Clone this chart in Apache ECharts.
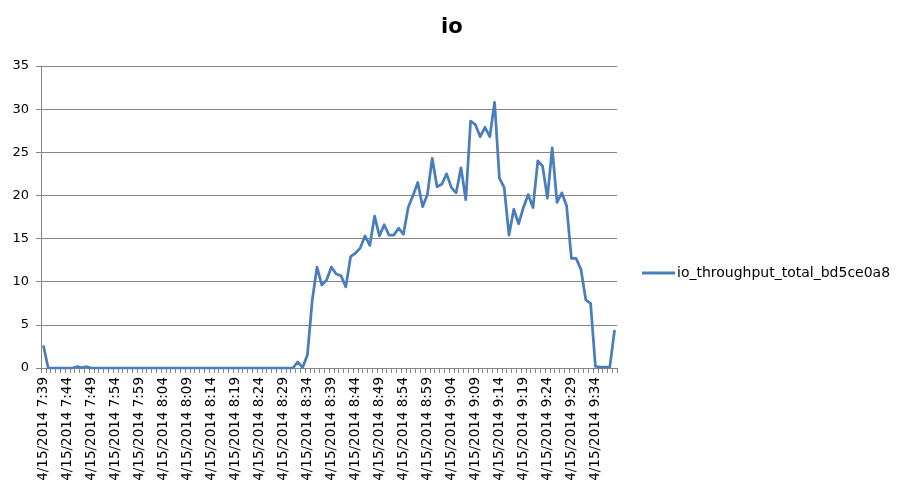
<!DOCTYPE html>
<html>
<head>
<meta charset="utf-8">
<script src="https://cdn.jsdelivr.net/npm/echarts@6/dist/echarts.min.js"></script>
<style>html,body{margin:0;padding:0;background:#fff;}#c{width:900px;height:484px;}</style>
</head>
<body>
<div id="c"></div>
<script>
var chartTitle = 'io';
var seriesName = 'io_throughput_total_bd5ce0a8';
var categories = [
'4/15/2014 7:39','4/15/2014 7:40','4/15/2014 7:41','4/15/2014 7:42','4/15/2014 7:43','4/15/2014 7:44','4/15/2014 7:45','4/15/2014 7:46','4/15/2014 7:47','4/15/2014 7:48',
'4/15/2014 7:49','4/15/2014 7:50','4/15/2014 7:51','4/15/2014 7:52','4/15/2014 7:53','4/15/2014 7:54','4/15/2014 7:55','4/15/2014 7:56','4/15/2014 7:57','4/15/2014 7:58',
'4/15/2014 7:59','4/15/2014 8:00','4/15/2014 8:01','4/15/2014 8:02','4/15/2014 8:03','4/15/2014 8:04','4/15/2014 8:05','4/15/2014 8:06','4/15/2014 8:07','4/15/2014 8:08',
'4/15/2014 8:09','4/15/2014 8:10','4/15/2014 8:11','4/15/2014 8:12','4/15/2014 8:13','4/15/2014 8:14','4/15/2014 8:15','4/15/2014 8:16','4/15/2014 8:17','4/15/2014 8:18',
'4/15/2014 8:19','4/15/2014 8:20','4/15/2014 8:21','4/15/2014 8:22','4/15/2014 8:23','4/15/2014 8:24','4/15/2014 8:25','4/15/2014 8:26','4/15/2014 8:27','4/15/2014 8:28',
'4/15/2014 8:29','4/15/2014 8:30','4/15/2014 8:31','4/15/2014 8:32','4/15/2014 8:33','4/15/2014 8:34','4/15/2014 8:35','4/15/2014 8:36','4/15/2014 8:37','4/15/2014 8:38',
'4/15/2014 8:39','4/15/2014 8:40','4/15/2014 8:41','4/15/2014 8:42','4/15/2014 8:43','4/15/2014 8:44','4/15/2014 8:45','4/15/2014 8:46','4/15/2014 8:47','4/15/2014 8:48',
'4/15/2014 8:49','4/15/2014 8:50','4/15/2014 8:51','4/15/2014 8:52','4/15/2014 8:53','4/15/2014 8:54','4/15/2014 8:55','4/15/2014 8:56','4/15/2014 8:57','4/15/2014 8:58',
'4/15/2014 8:59','4/15/2014 9:00','4/15/2014 9:01','4/15/2014 9:02','4/15/2014 9:03','4/15/2014 9:04','4/15/2014 9:05','4/15/2014 9:06','4/15/2014 9:07','4/15/2014 9:08',
'4/15/2014 9:09','4/15/2014 9:10','4/15/2014 9:11','4/15/2014 9:12','4/15/2014 9:13','4/15/2014 9:14','4/15/2014 9:15','4/15/2014 9:16','4/15/2014 9:17','4/15/2014 9:18',
'4/15/2014 9:19','4/15/2014 9:20','4/15/2014 9:21','4/15/2014 9:22','4/15/2014 9:23','4/15/2014 9:24','4/15/2014 9:25','4/15/2014 9:26','4/15/2014 9:27','4/15/2014 9:28',
'4/15/2014 9:29','4/15/2014 9:30','4/15/2014 9:31','4/15/2014 9:32','4/15/2014 9:33','4/15/2014 9:34','4/15/2014 9:35','4/15/2014 9:36','4/15/2014 9:37','4/15/2014 9:38'
];
var ioValues = [
2.6,0,0,0,0,0,0,0.15,0.05,0.15,
0,0,0,0,0,0,0,0,0,0,
0,0,0,0,0,0,0,0,0,0,
0,0,0,0,0,0,0,0,0,0,
0,0,0,0,0,0,0,0,0,0,
0,0,0,0.7,0.05,1.5,7.8,11.7,9.6,10.2,
11.7,10.9,10.7,9.4,12.9,13.3,13.9,15.3,14.2,17.6,
15.3,16.6,15.4,15.4,16.2,15.5,18.6,20.0,21.5,18.7,
20.1,24.3,21.0,21.3,22.5,20.9,20.3,23.2,19.5,28.6,
28.2,26.8,27.9,26.8,30.8,22.0,20.9,15.4,18.4,16.7,
18.6,20.1,18.6,24.0,23.4,19.7,25.5,19.2,20.3,18.8,
12.7,12.7,11.4,7.9,7.5,0.2,0.1,0.1,0.1,4.4
];
var yTicks = {min: 0, max: 35, interval: 5};

var chart = echarts.init(document.getElementById('c'), null, {renderer: 'canvas'});
chart.setOption({
  backgroundColor: '#ffffff',
  animation: false,
  title: {
    text: chartTitle,
    left: 436,
    top: 12,
    textStyle: {fontFamily: 'DejaVu Sans', fontSize: 21, fontWeight: 'bold', color: '#000'}
  },
  legend: {
    data: [seriesName],
    left: 637,
    top: 261,
    itemWidth: 33,
    itemHeight: 3,
    itemGap: 4,
    icon: 'rect',
    textStyle: {fontFamily: 'DejaVu Sans', fontSize: 14, color: '#000', padding: [0, 0, 0, -3]}
  },
  grid: {
    left: 41, right: 283, top: 66, bottom: 116,
    containLabel: false,
    outerBoundsMode: 'none'
  },
  xAxis: {
    type: 'category',
    data: categories,
    boundaryGap: true,
    axisLine: {show: true, lineStyle: {color: '#868686', width: 1}},
    axisTick: {show: true, interval: 0, length: 5, lineStyle: {color: '#868686'}},
    axisLabel: {
      interval: 4,
      rotate: 90,
      margin: 9,
      fontFamily: 'DejaVu Sans',
      fontSize: 13.5,
      color: '#000'
    },
    splitLine: {show: false}
  },
  yAxis: {
    type: 'value',
    min: yTicks.min,
    max: yTicks.max,
    interval: yTicks.interval,
    axisLine: {show: true, lineStyle: {color: '#868686', width: 1}},
    axisTick: {show: true, length: 5, lineStyle: {color: '#868686'}},
    axisLabel: {margin: 12, fontFamily: 'DejaVu Sans', fontSize: 13, color: '#000'},
    splitLine: {show: true, lineStyle: {color: '#868686', width: 1}}
  },
  series: [{
    name: seriesName,
    type: 'line',
    data: ioValues,
    showSymbol: false,
    symbol: 'none',
    smooth: false,
    lineStyle: {color: '#4A7EBB', width: 2.75, join: 'round'},
    itemStyle: {color: '#4A7EBB'}
  }]
});
</script>
</body>
</html>
